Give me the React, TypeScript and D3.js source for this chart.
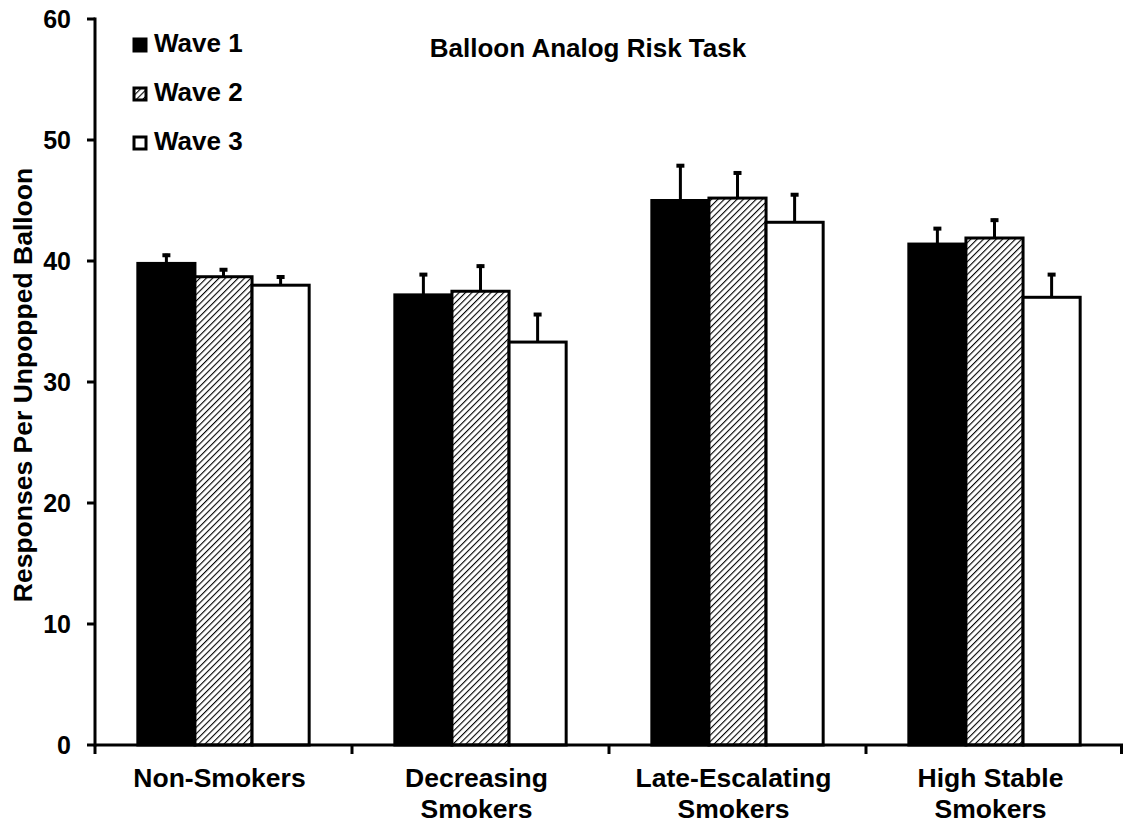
import * as d3 from "d3";

const width = 1126;
const height = 824;
const marginLeft = 95;
const marginRight = 3;
const marginTop = 19;
const marginBottom = 79;

const groups = ["Non-Smokers", "Decreasing Smokers", "Late-Escalating Smokers", "High Stable Smokers"];
const groupLines: Record<string, string[]> = {
  "Non-Smokers": ["Non-Smokers"],
  "Decreasing Smokers": ["Decreasing", "Smokers"],
  "Late-Escalating Smokers": ["Late-Escalating", "Smokers"],
  "High Stable Smokers": ["High Stable", "Smokers"],
};
const waves = ["Wave 1", "Wave 2", "Wave 3"];
const wave1 = [39.8, 37.2, 45.0, 41.4];
const wave2 = [38.7, 37.5, 45.2, 41.9];
const wave3 = [38.0, 33.3, 43.2, 37.0];
const err1 = [0.8, 1.8, 3.0, 1.4];
const err2 = [0.7, 2.2, 2.2, 1.6];
const err3 = [0.8, 2.4, 2.4, 2.0];
const yTicks = [0, 10, 20, 30, 40, 50, 60];

const font = "'Liberation Sans', Arial, sans-serif";

export default function App() {
  const x0 = d3.scaleBand(groups, [marginLeft, width - marginRight]).paddingInner(0).paddingOuter(0);
  const x1 = d3.scaleBand(waves, [0, x0.bandwidth()]).paddingOuter(0.75).paddingInner(0);
  const y = d3.scaleLinear([0, 60], [height - marginBottom, marginTop]);
  const values = [wave1, wave2, wave3];
  const errs = [err1, err2, err3];
  const fills = ["#000", "url(#hatch)", "#fff"];

  return (
    <svg width={width} height={height} style={{ display: "block", position: "absolute", left: 0, top: 0 }}>
      <defs>
        <pattern id="hatch" patternUnits="userSpaceOnUse" width="4.5" height="4.5" patternTransform="rotate(45)">
          <rect width="4.5" height="4.5" fill="#fff" />
          <line x1="0" y1="0" x2="0" y2="4.5" stroke="#000" strokeWidth="2.2" />
        </pattern>
      </defs>
      <rect width={width} height={height} fill="#fff" />

      {values.map((vals, w) =>
        groups.map((g, i) => {
          const bx = x0(g)! + x1(waves[w])!;
          const bw = x1.bandwidth();
          const cx = bx + bw / 2;
          const top = y(vals[i] + errs[w][i]);
          return (
            <g key={`${w}-${i}`}>
              <line x1={cx} x2={cx} y1={y(vals[i])} y2={top} stroke="#000" strokeWidth={3} />
              <line x1={cx - 4} x2={cx + 4} y1={top + 1.5} y2={top + 1.5} stroke="#000" strokeWidth={4} />
            </g>
          );
        })
      )}
      {values.map((vals, w) =>
        groups.map((g, i) => {
          const bx = x0(g)! + x1(waves[w])!;
          const bw = x1.bandwidth();
          return (
            <rect
              key={`b${w}-${i}`}
              x={bx}
              y={y(vals[i])}
              width={bw}
              height={y(0) - y(vals[i])}
              fill={fills[w]}
              stroke="#000"
              strokeWidth={3}
            />
          );
        })
      )}

      {/* y axis */}
      <line x1={marginLeft} x2={marginLeft} y1={y(60) - 1.5} y2={y(0) + 1.5} stroke="#000" strokeWidth={3} />
      {yTicks.map((t) => (
        <g key={t}>
          <line x1={marginLeft - 8} x2={marginLeft} y1={y(t)} y2={y(t)} stroke="#000" strokeWidth={3} />
          <text x={marginLeft - 24} y={y(t)} dy="0.36em" textAnchor="end" fontFamily={font} fontWeight="bold" fontSize={25}>
            {t}
          </text>
        </g>
      ))}

      {/* x axis */}
      <line x1={marginLeft} x2={width - marginRight} y1={y(0)} y2={y(0)} stroke="#000" strokeWidth={3} />
      {groups.map((g, i) => {
        const tx = x0(g)! + x0.bandwidth() + (i === groups.length - 1 ? -1.5 : 0);
        return <line key={g} x1={tx} x2={tx} y1={y(0)} y2={y(0) + 9} stroke="#000" strokeWidth={3} />;
      })}
      <line x1={marginLeft} x2={marginLeft} y1={y(0)} y2={y(0) + 9} stroke="#000" strokeWidth={3} />
      {groups.map((g) => {
        const cx = x0(g)! + x0.bandwidth() / 2 - 4;
        return (
          <text key={g} x={cx} y={787} textAnchor="middle" fontFamily={font} fontWeight="bold" fontSize={26.5}>
            {groupLines[g].map((l, k) => (
              <tspan key={k} x={cx} dy={k === 0 ? 0 : 31}>
                {l}
              </tspan>
            ))}
          </text>
        );
      })}

      {/* y label */}
      <text
        transform={`translate(32,${(y(0) + y(60)) / 2 + 3}) rotate(-90)`}
        textAnchor="middle"
        fontFamily={font}
        fontWeight="bold"
        fontSize={26.5}
      >
        Responses Per Unpopped Balloon
      </text>

      {/* title */}
      <text x={588} y={57} textAnchor="middle" fontFamily={font} fontWeight="bold" fontSize={26}>
        Balloon Analog Risk Task
      </text>

      {/* legend */}
      {waves.map((w, k) => (
        <g key={w} transform={`translate(134,${52 + k * 49})`}>
          <rect x={0} y={-13} width={12} height={12} fill={fills[k]} stroke="#000" strokeWidth={3} />
          <text x={20} y={0} fontFamily={font} fontWeight="bold" fontSize={26}>
            {w}
          </text>
        </g>
      ))}
    </svg>
  );
}
